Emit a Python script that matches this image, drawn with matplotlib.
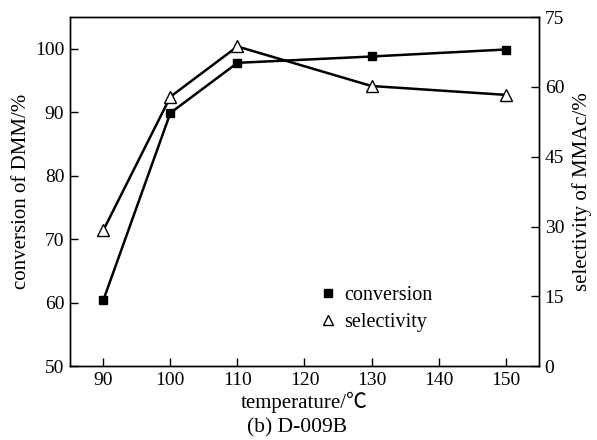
import matplotlib
matplotlib.use('Agg')
import matplotlib.pyplot as plt
from matplotlib.lines import Line2D

plt.rcParams['font.family'] = ['Liberation Serif', 'Noto Sans CJK SC', 'DejaVu Serif']
plt.rcParams['font.size'] = 14

# data
temperature = [90, 100, 110, 130, 150]
conversion = [60.4, 89.9, 97.8, 98.8, 99.9]
selectivity = [29.2, 57.9, 68.7, 60.2, 58.3]

fig = plt.figure(figsize=(5.97, 4.40), dpi=100)
ax = fig.add_axes([0.117, 0.168, 0.786, 0.793])
ax2 = ax.twinx()

ax.plot(temperature, conversion, color='black', lw=1.8, marker='s', ms=6,
        mfc='black', mec='black', zorder=3)
ax2.plot(temperature, selectivity, color='black', lw=1.8, marker='^', ms=9,
         mfc='white', mec='black', mew=1.0, zorder=3)

ax.set_xlim(85, 155)
ax.set_ylim(50, 105)
ax2.set_ylim(0, 75)
ax.set_xticks([90, 100, 110, 120, 130, 140, 150])
ax.set_yticks([50, 60, 70, 80, 90, 100])
ax2.set_yticks([0, 15, 30, 45, 60, 75])

for a in (ax, ax2):
    a.tick_params(direction='in', length=6, width=1, labelsize=14, pad=4)
    for s in a.spines.values():
        s.set_linewidth(1.0)
ax.tick_params(top=False)

ax.set_ylabel('conversion of DMM/%', fontsize=15, labelpad=3)
ax2.set_ylabel('selectivity of MMAc/%', fontsize=15, labelpad=6)
ax.set_xlabel('temperature/℃', fontsize=15, labelpad=2)
fig.text(0.497, 0.005, '(b) D-009B', ha='center', va='bottom', fontsize=15.5)

handles = [Line2D([], [], ls='none', marker='s', ms=6, color='black'),
           Line2D([], [], ls='none', marker='^', ms=7, mfc='white', mec='black')]
ax.legend(handles, ['conversion', 'selectivity'], loc='lower left',
          bbox_to_anchor=(0.494, 0.045), frameon=False, handlelength=0.8,
          handletextpad=0.4, fontsize=14.5, labelspacing=0.42)

fig.savefig('out.png', dpi=100)
